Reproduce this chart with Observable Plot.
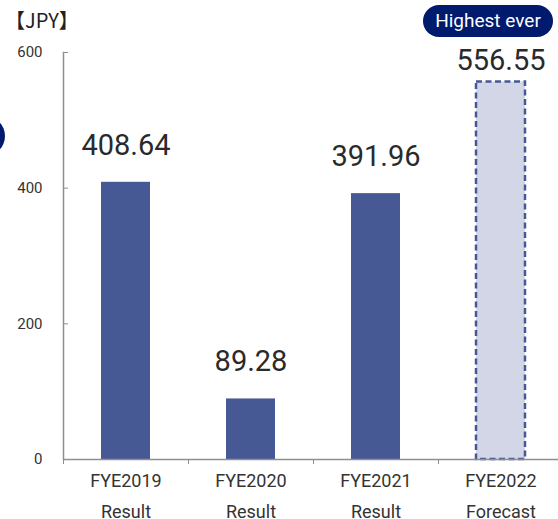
<!DOCTYPE html>
<html><head><meta charset="utf-8">
<script src="https://cdn.jsdelivr.net/npm/d3@7"></script>
<script src="https://cdn.jsdelivr.net/npm/@observablehq/plot@0.6"></script>
<style>
html,body{margin:0;padding:0;overflow:hidden;background:#fff;width:558px;height:519px;}
#wrap{position:relative;width:558px;height:519px;overflow:hidden;}
#unit{position:absolute;left:5px;top:5px;font:20px "Noto Sans CJK JP",Roboto,sans-serif;color:#222;z-index:2;}
#badge{position:absolute;left:423px;top:5px;width:130px;height:32px;border-radius:16px;background:#001a6e;color:#fff;font:19px Roboto,sans-serif;line-height:32px;text-align:center;z-index:2;}
#dot{position:absolute;left:-35px;top:116px;width:40px;height:40px;border-radius:20px;background:#001a6e;z-index:2;}
svg{position:absolute;left:0;top:0;max-width:none !important;}
</style></head>
<body><div id="wrap"><div id="unit">【JPY】</div><div id="badge">Highest ever</div><div id="dot"></div></div>
<script>
const categories = ["FYE2019", "FYE2020", "FYE2021", "FYE2022"];
const subLabels = ["Result", "Result", "Result", "Forecast"];
const values = [408.64, 89.28, 391.96, 556.55];
const labels = ["408.64", "89.28", "391.96", "556.55"];
const kinds = ["result", "result", "result", "forecast"];
const yTicks = [0, 200, 400, 600];

const data = categories.map((c, i) => ({cat: c, sub: subLabels[i], value: values[i], label: labels[i], kind: kinds[i]}));
const results = data.filter(d => d.kind === "result");
const forecasts = data.filter(d => d.kind === "forecast");

const W = 563, ML = 63, MR = 0;
const step = (W - ML - MR) / categories.length;

const chart = Plot.plot({
  width: W, height: 519,
  marginLeft: ML, marginRight: MR, marginTop: 52, marginBottom: 60,
  style: {fontFamily: "Roboto, sans-serif", background: "transparent", overflow: "visible", maxWidth: "none"},
  x: {domain: categories, paddingInner: 0.61, paddingOuter: 0.305, axis: null, label: null},
  y: {domain: [0, 600], axis: null, label: null},
  marks: [
    Plot.barY(results, {x: "cat", y: "value", fill: "#475995"}),
    Plot.barY(forecasts, {x: "cat", y: "value", fill: "#d2d6e6", stroke: "#475995", strokeWidth: 2.5, strokeDasharray: "6,3.5"}),
    Plot.frame({anchor: "left", stroke: "#8f8f8f", strokeWidth: 1.5}),
    Plot.ruleY([0], {stroke: "#8f8f8f", strokeWidth: 1.5}),
    Plot.axisY({ticks: yTicks, tickSize: -5, tickPadding: 26, stroke: "#8f8f8f", fontSize: 15, fill: "#333", label: null, tickFormat: d => String(d)}),
    Plot.axisX({ticks: categories, tickSize: 5, text: null, dx: -step / 2, stroke: "#8f8f8f", label: null}),
    Plot.axisX({ticks: categories, tickSize: 0, tickPadding: 6, fontSize: 18, fill: "#333", lineHeight: 1.7, label: null,
      tickFormat: c => c + "\n" + subLabels[categories.indexOf(c)]}),
    Plot.text(results, {x: "cat", y: "value", text: "label", dy: -37, lineAnchor: "middle", fontSize: 29, fill: "#2a2a2a"}),
    Plot.text(forecasts, {x: "cat", y: "value", text: "label", dy: -21, lineAnchor: "middle", fontSize: 29, fill: "#2a2a2a"})
  ]
});
document.getElementById("wrap").prepend(chart);
</script>
</body></html>
